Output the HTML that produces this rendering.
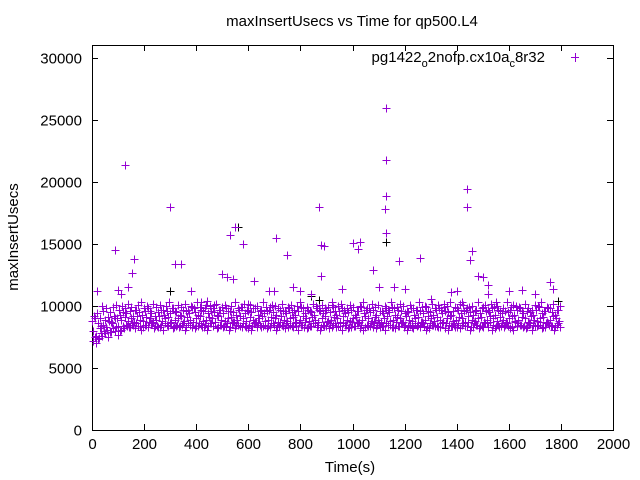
<!DOCTYPE html>
<html><head><meta charset="utf-8"><style>
body{margin:0;background:#fff}
svg{display:block;font-family:"Liberation Sans",sans-serif}
</style></head><body>
<svg id="chart" width="640" height="480">
<text x="352" y="26" font-size="15" text-anchor="middle">maxInsertUsecs vs Time for qp500.L4</text>
<text transform="translate(18,237) rotate(-90)" font-size="15" text-anchor="middle">maxInsertUsecs</text>
<text x="350" y="472" font-size="15" text-anchor="middle">Time(s)</text>
<g id="axes"></g>
<g id="marks"></g>
<g>
<text x="545" y="62" font-size="15" text-anchor="end">pg1422<tspan font-size="11" dy="5">o</tspan><tspan dy="-5">2nofp.cx10a</tspan><tspan font-size="11" dy="5">c</tspan><tspan dy="-5">8r32</tspan></text>
<path d="M571,57.5h8M575.5,53v9" stroke="#9400d3" stroke-width="1"/>
</g>
</svg>
<script>
const xTicks=[0,200,400,600,800,1000,1200,1400,1600,1800,2000];
const yTicks=[0,5000,10000,15000,20000,25000,30000];
const step=12; // seconds between samples
// band values in hundreds of usecs
const bandHigh=[88,90,86,84,89,91,87,92,90,93,95,94,96,92,97,95,93,96,98,94,92,95,97,93,96,94,98,95,93,97,96,94,99,95,93,97,98,94,96,95,93,97,94,98,96,95,93,97,99,94,96,95,98,93,97,94,96,99,95,93,97,96,94,98,95,93,96,99,94,97,95,93,98,96,94,97,95,99,93,96,98,94,95,97,93,96,99,94,98,95,97,93,96,94,98,95,99,93,97,96,94,95,98,93,97,96,94,99,95,93,97,98,94,96,95,93,99,97,94,96,98,95,93,97,94,99,96,95,98,93,97,94,96,95,99,93,97,98,94,96,95,93,97,99,94,96,98,95,93,97];
const bandLow=[72,70,74,76,78,75,79,80,77,81,82,84,83,85,86,84,83,85,87,86,84,83,85,86,84,87,83,85,84,86,83,85,87,84,86,83,85,84,86,87,83,85,84,86,83,87,85,84,86,83,85,84,87,86,83,85,84,86,85,83,87,84,86,85,83,84,86,85,87,83,84,86,85,83,84,87,86,85,83,84,86,85,83,87,84,86,85,83,84,86,87,85,83,84,86,85,83,87,84,86,85,84,83,86,85,87,84,83,86,85,84,83,87,86,85,84,83,86,85,84,87,83,86,85,84,83,86,87,85,84,83,86,85,84,83,87,86,85,84,83,86,85,84,87,83,86,85,84,83,86];
const bandMid=[80,76,82,85,83,88,86,90,84,89,91,88,90,87,92,89,88,91,90,87,89,92,88,90,91,87,89,90,92,88,91,89,87,90,92,88,89,91,90,87,92,89,88,90,91,87,89,92,90,88,91,89,87,90,92,88,89,91,90,87,92,89,88,90,91,87,89,92,90,88,91,89,87,90,92,88,89,91,90,87,92,89,88,90,91,87,89,92,90,88,91,89,87,90,92,88,89,91,90,87,92,89,88,90,91,87,89,92,90,88,91,89,87,90,92,88,89,91,90,87,92,89,88,90,91,87,89,92,90,88,91,89,87,90,92,88,89,91,90,87,92,89,88,90,91,87,89,92,90,88];
const bandTop=[92,94,90,96,98,95,99,101,97,100,98,102,99,97,101,103,98,100,96,102,99,101,97,100,103,98,96,101,99,102,97,100,98,103,99,96,101,100,98,102,97,99,101,96,100,103,98,99,102,97,101,98,100,96,103,99,97,101,100,98,102,96,99,101,97,100,103,98,99,96,102,100,97,101,98,99,103,96,100,102,97,98,101,99,96,100,103,97,98,102,99,101,96,100,97,103,98,99,102,100,96,101,98,97,103,99,100,96,102,98,101,97,99,100,103,96,98,102,101,97,99,100,96,103,98,101,97,102,99,100,96,98,103,97,101,100,99,96,102,98,97,101,100,103,96,99,98,102,97,100];
const bandBottom=[75,73,78,80,81,79,82,83,80,84,85,83,86,82,84,81,85,83,86,82,84,83,81,85,86,82,84,83,85,81,86,83,82,84,85,83,81,86,84,82,85,83,84,81,86,82,85,83,84,82,81,86,83,85,84,82,83,86,81,84,85,82,83,84,86,81,85,83,82,84,86,83,81,85,84,82,83,86,84,81,85,82,83,84,86,82,81,85,84,83,82,86,84,81,85,83,82,84,86,83,81,85,82,84,83,86,81,82,85,84,83,86,82,81,84,85,83,82,86,84,81,83,85,82,84,86,83,81,82,85,84,83,86,82,81,84,85,83,82,86,81,84,85,82,83,86,84,81,85,83];
const outlierTimes=[125,300,320,340,530,550,580,90,160,155,705,750,870,880,890,1000,1020,1030,1130,1130,1130,1125,1130,1080,1180,1260,1440,1440,1460,1450,1480,1500,1520,1650,1760,1770,840,140,100,110,500,520,540,620,680,700,770,800,880,960,1100,1160,1200,1380,1400,1420,1520,1600,1700,20,40,380,420,440,470,600,920,1300,1350,1550];
const outlierValues=[21400,18000,13400,13400,15700,16400,15000,14500,13800,12700,15500,14100,18000,14900,14800,15100,14600,15200,26000,21800,18900,17800,15900,12900,13600,13900,19400,18000,14400,13700,12400,12300,11700,11300,11900,11400,11000,11500,11300,11000,12600,12300,12200,12000,11200,11200,11500,11200,12400,11400,11500,11500,11400,11100,11200,10300,11000,11200,11000,11200,10000,11200,10300,10400,10100,10200,10100,10600,10200,10300];
const blackTimes=[90,560,705,870,1130,1260,1480,1760,1790,300,840];
const blackValues=[14500,16400,15500,10500,15200,13900,12400,11900,10400,11200,10800];

const L=92,R=613,T=45,B=430;
const sx=t=>L+t/2000*(R-L);
const sy=v=>B-v/30000*372;
const NS='http://www.w3.org/2000/svg';
const axes=document.getElementById('axes');
const marks=document.getElementById('marks');
function mk(tag,attrs,parent){const e=document.createElementNS(NS,tag);for(const k in attrs)e.setAttribute(k,attrs[k]);parent.appendChild(e);return e;}
const frame=mk('rect',{x:L+0.5,y:T+0.5,width:R-L,height:B-T,fill:'none',stroke:'#000','stroke-width':1},axes);


xTicks.forEach(t=>{const x=Math.round(sx(t))+0.5;
 const p=mk('path',{d:`M${x},${B}v-6M${x},${T}v6`,stroke:'#000'},axes);
 
 
 const tx=mk('text',{x:x,y:B+19,'font-size':15,'text-anchor':'middle'},axes);tx.textContent=t;
 
 });
yTicks.forEach(v=>{const y=Math.round(sy(v))+0.5;
 const p=mk('path',{d:`M${L},${y}h6M${R},${y}h-6`,stroke:'#000'},axes);
 
 
 const tx=mk('text',{x:L-10,y:y+5,'font-size':15,'text-anchor':'end'},axes);tx.textContent=v;
 
 });
function plus(t,v){const x=Math.round(sx(t))+0.5,y=Math.round(sy(v))+0.5;return `M${x-4},${y}h8M${x},${y-4}v8`;}
let blk='';blackTimes.forEach((t,i)=>blk+=plus(t,blackValues[i]));
const pb=mk('path',{d:blk,stroke:'#000','stroke-width':1,fill:'none'},marks);


let d='';
[bandHigh,bandLow,bandMid,bandTop,bandBottom].forEach((arr,k)=>arr.forEach((v,i)=>{d+=plus(i*step+k*2.5,v*100);}));
outlierTimes.forEach((t,i)=>d+=plus(t,outlierValues[i]));
const pp=mk('path',{d:d,stroke:'#9400d3','stroke-width':1,fill:'none'},marks);


</script>
</body></html>
